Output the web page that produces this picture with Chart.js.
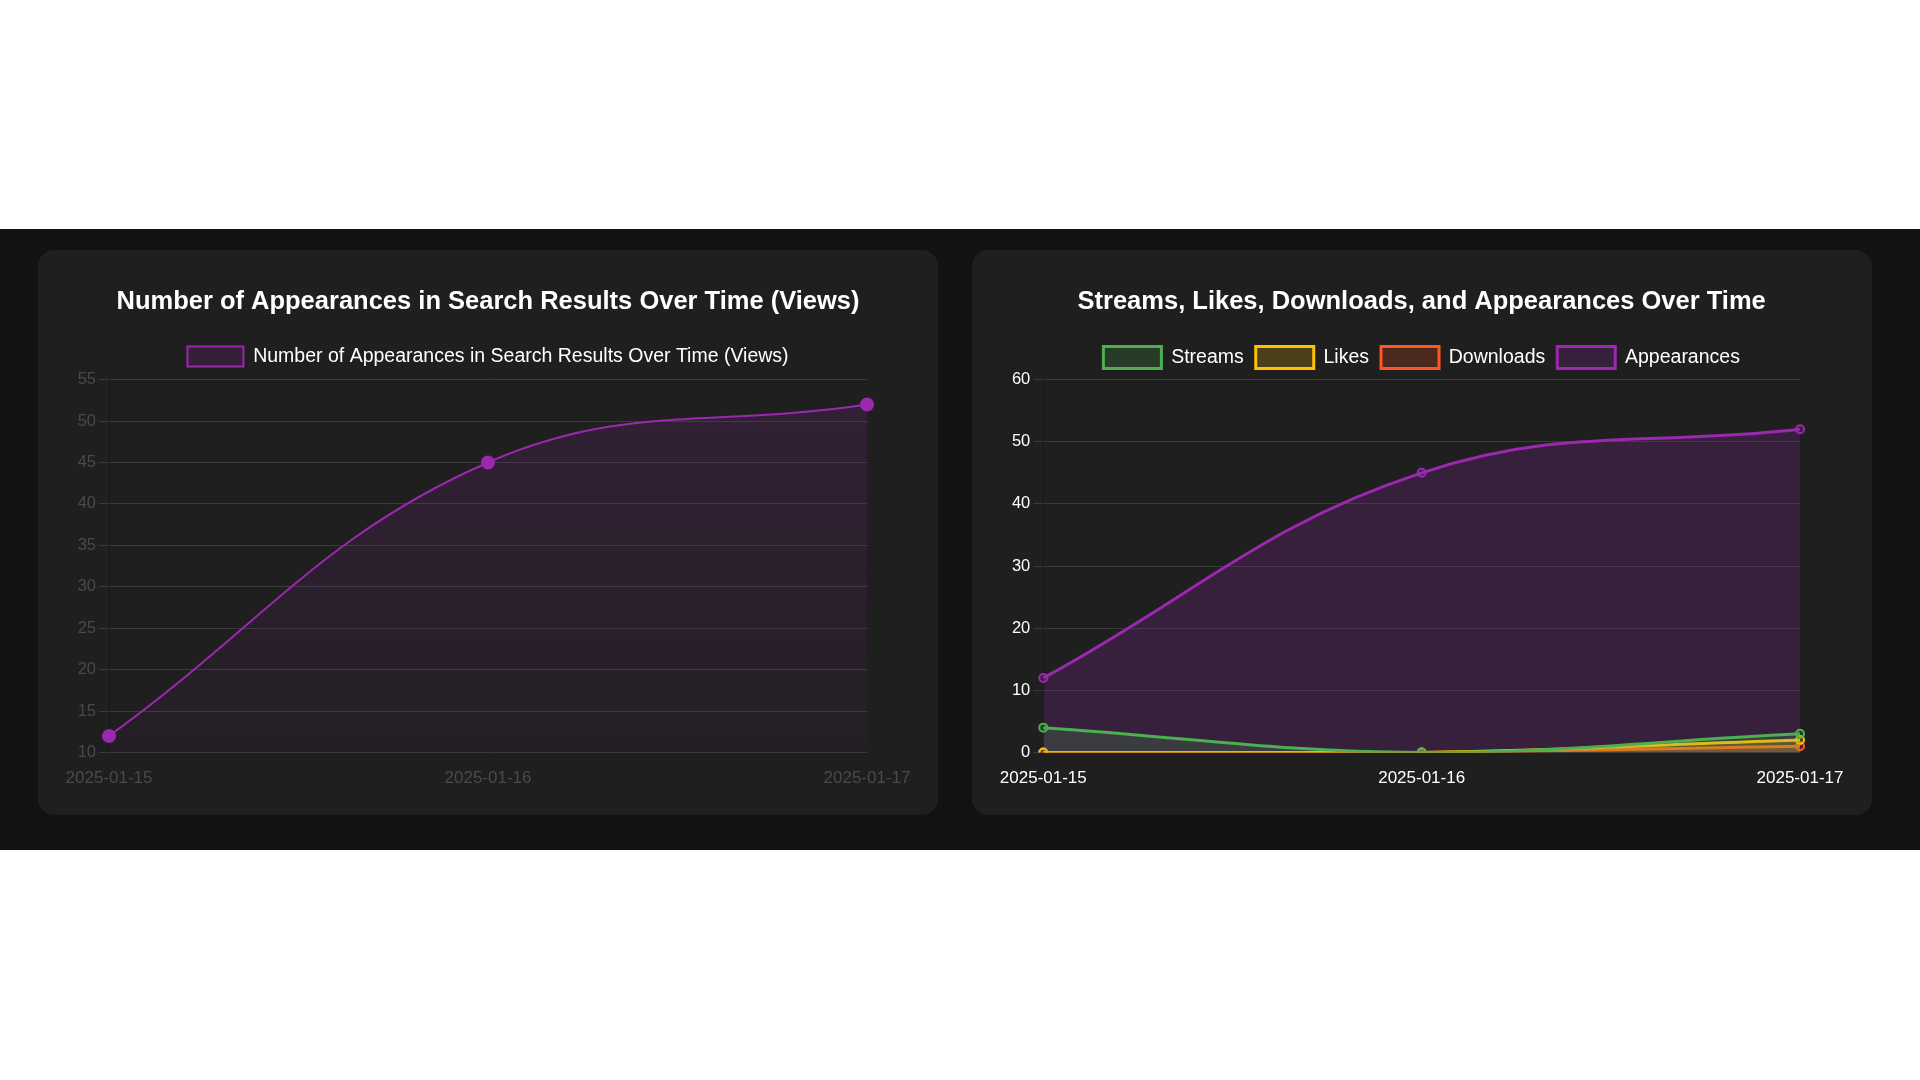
<!DOCTYPE html>
<html>
<head>
<meta charset="utf-8">
<script src="https://cdn.jsdelivr.net/npm/chart.js@4"></script>
<style>
  html, body { margin: 0; padding: 0; background: #ffffff; width: 1920px; height: 1080px; overflow: hidden; }
  #band { position: absolute; left: 0; top: 229px; width: 1920px; height: 621px; background: #121212; }
  .card { position: absolute; top: 250px; height: 565px; background: #1f1f1f; border-radius: 16px; }
  #card1 { left: 38px; width: 900px; }
  #card2 { left: 972px; width: 900px; }
  .wrap { position: absolute; left: 20px; top: 20px; right: 20px; bottom: 20px; }
</style>
</head>
<body>
<div id="band"></div>
<div class="card" id="card1"><div class="wrap"><canvas id="c1"></canvas></div></div>
<div class="card" id="card2"><div class="wrap"><canvas id="c2"></canvas></div></div>
<script>
const dates = ['2025-01-15', '2025-01-16', '2025-01-17'];
const appearances = [12, 45, 52];
const streams = [4, 0, 3];
const likes = [0, 0, 2];
const downloads = [0, 0, 1];
const leftTitle = 'Number of Appearances in Search Results Over Time (Views)';
const rightTitle = 'Streams, Likes, Downloads, and Appearances Over Time';
const leftYRange = [10, 55, 5];
const rightYRange = [0, 60, 10];

const FONT = "'Liberation Sans', Arial, Helvetica, sans-serif";
Chart.defaults.font.family = FONT;

const PURPLE = '#9C27B0', GREEN = '#4CAF50', YELLOW = '#FFC107', ORANGE = '#FF5722';

function legendSpacer(extra) {
  return {
    id: 'legendSpacer',
    beforeInit(chart) {
      const origFit = chart.legend.fit;
      chart.legend.fit = function () {
        origFit.bind(chart.legend)();
        this.height += extra;
      };
    }
  };
}

function gradientFill(context) {
  const chart = context.chart;
  const { ctx, chartArea } = chart;
  if (!chartArea) return 'rgba(156,39,176,0.2)';
  const g = ctx.createLinearGradient(0, 0, 0, chartArea.bottom);
  g.addColorStop(0, 'rgba(156,39,176,0.2)');
  g.addColorStop(1, 'rgba(156,39,176,0.04)');
  return g;
}

const titleOpts = (text) => ({ display: true, text, color: '#ffffff', font: { size: 25.5, weight: 'bold' }, padding: { top: 17, bottom: 17 } });
const xScale = (color) => ({
  ticks: { color, font: { size: 17 }, padding: 3 },
  grid: { display: false, drawTicks: true, tickLength: 12.8 },
  border: { display: false }
});
const yScale = (range, color) => ({
  min: range[0], max: range[1],
  ticks: { stepSize: range[2], color, font: { size: 16.5 } },
  grid: { color: 'rgba(255,255,255,0.12)', tickLength: 10 },
  border: { color: 'rgba(0,0,0,0.2)' },
  afterFit(scale) {
    scale.width = 0;
    scale._computeLabelArea = function () { return undefined; };
  }
});

new Chart(document.getElementById('c1'), {
  type: 'line',
  data: {
    labels: dates,
    datasets: [{
      label: leftTitle,
      data: appearances,
      borderColor: PURPLE,
      backgroundColor: gradientFill,
      pointBackgroundColor: PURPLE,
      pointBorderColor: PURPLE,
      borderWidth: 2,
      pointRadius: 6,
      fill: 'origin',
      tension: 0.4
    }]
  },
  plugins: [legendSpacer(3)],
  options: {
    responsive: true,
    maintainAspectRatio: false,
    animation: false,
    layout: { padding: { left: 51, right: 51, bottom: 3.3, top: 0 } },
    plugins: {
      title: titleOpts(leftTitle),
      legend: { labels: { color: '#ffffff', font: { size: 19.5 }, boxWidth: 56, boxHeight: 20, padding: 12 } },
      tooltip: { enabled: false }
    },
    scales: {
      x: xScale('#4a4a4a'),
      y: yScale(leftYRange, '#4a4a4a')
    }
  }
});

function ds(label, data, color, fillA) {
  return {
    label, data,
    borderColor: color,
    backgroundColor: fillA,
    pointBackgroundColor: fillA,
    pointBorderColor: color,
    borderWidth: 3,
    pointRadius: 4,
    pointBorderWidth: 2,
    fill: 'origin',
    tension: 0.4
  };
}

new Chart(document.getElementById('c2'), {
  type: 'line',
  data: {
    labels: dates,
    datasets: [
      ds('Streams', streams, GREEN, 'rgba(76,175,80,0.2)'),
      ds('Likes', likes, YELLOW, 'rgba(255,193,7,0.2)'),
      ds('Downloads', downloads, ORANGE, 'rgba(255,87,34,0.2)'),
      ds('Appearances', appearances, PURPLE, 'rgba(156,39,176,0.2)')
    ]
  },
  plugins: [legendSpacer(1)],
  options: {
    responsive: true,
    maintainAspectRatio: false,
    animation: false,
    layout: { padding: { left: 51.3, right: 52, bottom: 3.3, top: 0 } },
    plugins: {
      title: titleOpts(rightTitle),
      legend: { labels: { color: '#ffffff', font: { size: 19.5 }, boxWidth: 58, boxHeight: 22, padding: 12 } },
      tooltip: { enabled: false }
    },
    scales: {
      x: xScale('#ffffff'),
      y: yScale(rightYRange, '#ffffff')
    }
  }
});
</script>
</body>
</html>
